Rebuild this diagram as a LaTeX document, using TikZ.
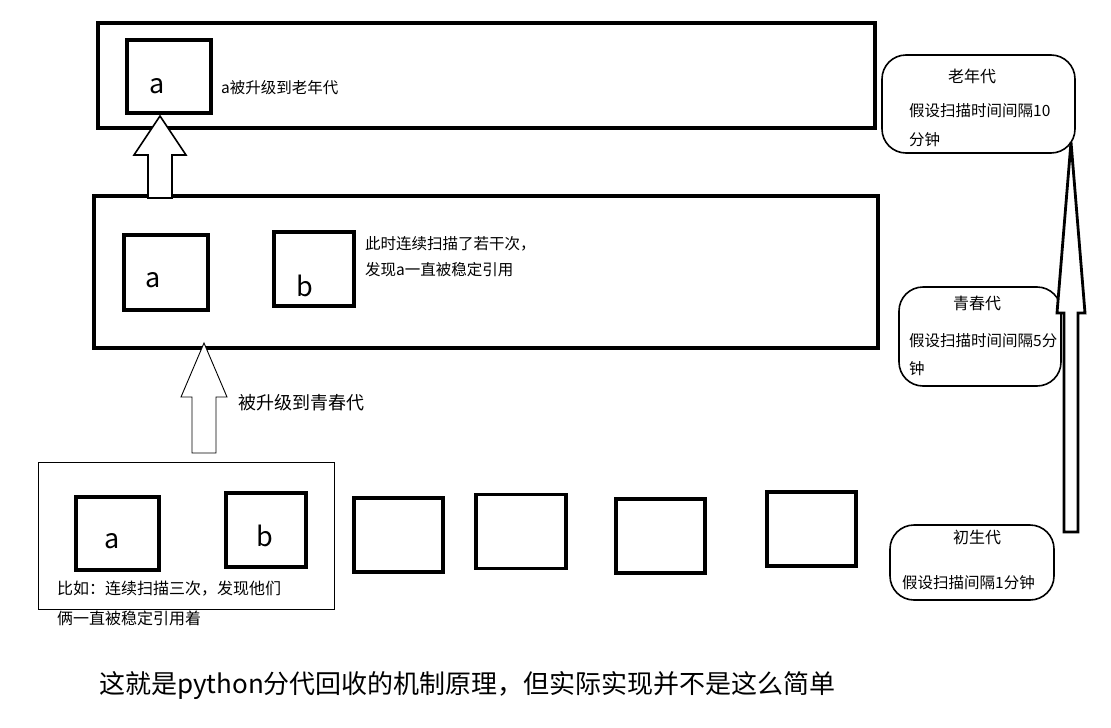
\documentclass[tikz,border=0pt]{standalone}
\usepackage{fontspec}
\setmainfont{Noto Sans CJK SC}
\usepackage{tikz}
\usetikzlibrary{positioning,calc}
\tikzset{
  gen-frame/.style={draw,line width=3.2pt,inner sep=0pt},
  obj-box/.style={draw,line width=3.2pt,inner sep=0pt},
  info-box/.style={draw,line width=1.6pt,rounded corners=24pt,inner sep=0pt},
  obj-label/.style={font=\fontsize{27}{30}\selectfont},
  note/.style={font=\fontsize{15.5}{26}\selectfont,align=left,inner sep=0pt},
  hollow-arrow/.style={draw,line width=1.6pt,fill=white,line join=miter},
}
\begin{document}
\begin{tikzpicture}[x=1pt,y=-1pt]
  \useasboundingbox[fill=white] (0,0) rectangle (1111,728);

  % 老年代
  \node[gen-frame,minimum width=777pt,minimum height=105pt] (old) at (486.5,75.5) {};
  \node[obj-box,minimum width=84pt,minimum height=73pt] (oldA) at (169,76.5) {};
  \node[obj-label] (oldAlbl) at (157,86) {a};
  \node[note,anchor=west] (oldnote) at (221,88) {a被升级到老年代};

  % 青春代
  \node[gen-frame,minimum width=784pt,minimum height=152pt] (young) at (486,272) {};
  \node[obj-box,minimum width=84pt,minimum height=75pt] (youngA) at (166,272.5) {};
  \node[obj-label] (youngAlbl) at (153,280) {a};
  \node[obj-box,minimum width=80pt,minimum height=74pt] (youngB) at (314,269) {};
  \node[obj-label] (youngBlbl) at (305,286) {b};
  \node[note,anchor=north west] (youngnote) at (365,236)
    {此时连续扫描了若干次，\\发现a一直被稳定引用};

  % 初生代
  \node[draw,line width=0.9pt,minimum width=296pt,minimum height=147pt] (newgen) at (186,535.5) {};
  \node[obj-box,minimum width=83pt,minimum height=73pt] (newA) at (117.5,533.5) {};
  \node[obj-label] (newAlbl) at (112,541) {a};
  \node[obj-box,minimum width=80pt,minimum height=74pt] (newB) at (266,530) {};
  \node[obj-label] (newBlbl) at (265,536) {b};
  \node[note,anchor=north west,font=\fontsize{16}{30}\selectfont] (newnote) at (57,581)
    {比如：连续扫描三次，发现他们\\俩一直被稳定引用着};
  \foreach \cx/\cy/\w [count=\i] in {398.5/535/89,521/531.5/90,660.5/536/89,811.5/529/89} {
    \node[obj-box,minimum width=\w pt,minimum height=74pt] (obj\i) at (\cx,\cy) {};
  }

  % 右侧说明
  \node[info-box,minimum width=193pt,minimum height=98pt] (oldinfo) at (978.5,104) {};
  \node[font=\fontsize{16}{20}\selectfont] (oldtitle) at (972,76) {老年代};
  \node[note,anchor=north west,font=\fontsize{15.5}{29}\selectfont] (oldtext) at (909,103)
    {假设扫描时间间隔10\\分钟};
  \node[info-box,minimum width=162pt,minimum height=99pt] (younginfo) at (980,336.5) {};
  \node[font=\fontsize{16}{20}\selectfont] (youngtitle) at (977,303) {青春代};
  \node[note,anchor=north west,font=\fontsize{15.5}{28}\selectfont] (youngtext) at (909,333)
    {假设扫描时间间隔5分\\钟};
  \node[info-box,minimum width=164pt,minimum height=75pt] (newinfo) at (972,562.5) {};
  \node[font=\fontsize{16}{20}\selectfont] (newtitle) at (977,537) {初生代};
  \node[note,anchor=west] (newtext) at (902,583) {假设扫描间隔1分钟};

  % 升级箭头
  \coordinate (upOld-tail) at (160,198);
  \coordinate (upOld-tip) at (160,116);
  \draw[hollow-arrow] (upOld-tail) ++(-12,0) -- ++(0,-43) -- ++(-14,0) -- (upOld-tip)
    -- ($(upOld-tail)+(26,-43)$) -- ++(-14,0) -- ++(0,43) -- cycle;
  \coordinate (upYoung-tail) at (204,453);
  \coordinate (upYoung-tip) at (204,343);
  \draw[hollow-arrow,line width=0.9pt] (upYoung-tail) ++(-12,0) -- ++(0,-56) -- ++(-11,0) -- (upYoung-tip)
    -- ($(upYoung-tail)+(23,-56)$) -- ++(-11,0) -- ++(0,56) -- cycle;
  \node[anchor=west,font=\fontsize{18}{20}\selectfont] (uplbl) at (235,403) {被升级到青春代};
  \coordinate (side-tail) at (1070.5,532);
  \coordinate (side-tip) at (1071,142);
  \draw[hollow-arrow,line width=2.8pt] (side-tail) ++(-6.5,0) -- ++(0,-219) -- ++(-7,0) -- (side-tip)
    -- ($(side-tail)+(14.5,-219)$) -- ++(-7,0) -- ++(0,219) -- cycle;

  \node[font=\fontsize{26}{30}\selectfont] (summary) at (467.5,686)
    {这就是python分代回收的机制原理，但实际实现并不是这么简单};
\end{tikzpicture}
\end{document}
